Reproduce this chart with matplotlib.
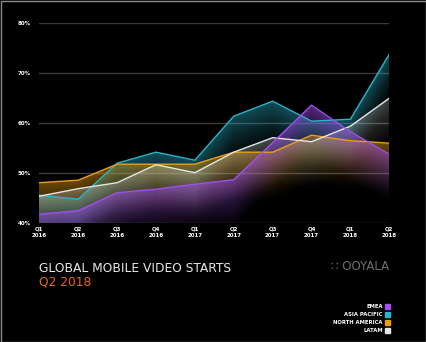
import numpy as np
import matplotlib
matplotlib.use("Agg")
from matplotlib import pyplot as plt
from matplotlib.patches import Rectangle
from matplotlib.colors import to_rgb

quarters = ["Q1\n2016", "Q2\n2016", "Q3\n2016", "Q4\n2016", "Q1\n2017",
            "Q2\n2017", "Q3\n2017", "Q4\n2017", "Q1\n2018", "Q2\n2018"]

# % of global video starts on mobile
emea = [41.7, 42.4, 46.0, 46.7, 47.7, 48.6, 56.0, 63.5, 58.2, 53.7]
asia_pacific = [45.5, 44.7, 51.9, 54.1, 52.5, 61.3, 64.3, 60.3, 60.7, 73.7]
north_america = [48.0, 48.5, 51.7, 51.7, 51.7, 54.1, 54.1, 57.5, 56.4, 55.9]
latam = [45.3, 46.8, 48.0, 51.6, 50.0, 54.1, 57.0, 56.2, 59.3, 64.9]

yticks = [40, 50, 60, 70, 80]

series = [
    ("ASIA PACIFIC", asia_pacific, "#2ab4cc", 0.42),
    ("NORTH AMERICA", north_america, "#eca010", 0.45),
    ("LATAM", latam, "#e6e6e6", 0.28),
    ("EMEA", emea, "#a24ef0", 0.5),
]
legend_order = ["EMEA", "ASIA PACIFIC", "NORTH AMERICA", "LATAM"]

W, H = 427, 342
fig = plt.figure(figsize=(W / 100, H / 100), dpi=100, facecolor="black")
ax = fig.add_axes([39.3 / W, 1 - 222.7 / H, 350 / W, 200 / H])
ax.set_facecolor("black")

x = np.arange(len(quarters))
ax.set_xlim(0, len(quarters) - 1)
ax.set_ylim(40, 80)

for y in yticks:
    ax.axhline(y, color="#3c3c3c", lw=1.0, zorder=1)

# gradient fills: fade out with distance below each line
gx = np.linspace(0, len(quarters) - 1, 500)
gy = np.linspace(40, 80, 400)
GX, GY = np.meshgrid(gx, gy)
fade = 10.0
for i, (name, vals, col, a0) in enumerate(series):
    top = np.interp(GX, x, vals)
    dist = top - GY
    alpha = np.where(dist >= 0, a0 * np.clip(1 - dist / fade, 0, 1) ** 1.3, 0)
    img = np.zeros(GX.shape + (4,))
    img[..., :3] = to_rgb(col)
    img[..., 3] = alpha
    ax.imshow(img, extent=(0, len(quarters) - 1, 40, 80), origin="lower",
              aspect="auto", interpolation="bilinear", zorder=2 + i)

for i, (name, vals, col, a0) in enumerate(series):
    ax.plot(x, vals, color=col, lw=1.0, zorder=10 + i)

for s in ax.spines.values():
    s.set_visible(False)
ax.set_xticks(x)
ax.set_xticklabels(quarters, fontsize=4, color="white", fontweight="bold",
                   linespacing=1.4)
ax.set_yticks(yticks)
ax.set_yticklabels([f"{v}%" for v in yticks], fontsize=4, color="white",
                   fontweight="bold")
ax.tick_params(length=0, pad=3)
ax.tick_params(axis="y", pad=6)

fig.text(39 / W, 1 - 268 / H, "GLOBAL MOBILE VIDEO STARTS", fontsize=8.8,
         color="#e8e8e8", va="center", ha="left")
fig.text(39 / W, 1 - 282 / H, "Q2 2018", fontsize=8.8, color="#e8671c",
         va="center", ha="left")
fig.text(389 / W, 1 - 267 / H, "\u2237 OOYALA", fontsize=8.5, color="#6e6e6e",
         va="center", ha="right")

colors = {name: col for name, vals, col, a0 in series}
for k, name in enumerate(legend_order):
    yy = 1 - (306.7 + 8 * k) / H
    fig.text(383 / W, yy, name, fontsize=3.8, color="white", fontweight="bold",
             va="center", ha="right")
    fig.patches.append(Rectangle((385 / W, yy - 2.3 / H), 4.6 / W, 4.6 / H,
                                 transform=fig.transFigure, color=colors[name]))

fig.patches.append(Rectangle((0.5 / W, 0.5 / H), 1 - 1.0 / W, 1 - 1.0 / H,
                             transform=fig.transFigure, fill=False,
                             edgecolor="#8a8a8a", lw=1.0))

fig.savefig("out.png", dpi=100, facecolor="black")
